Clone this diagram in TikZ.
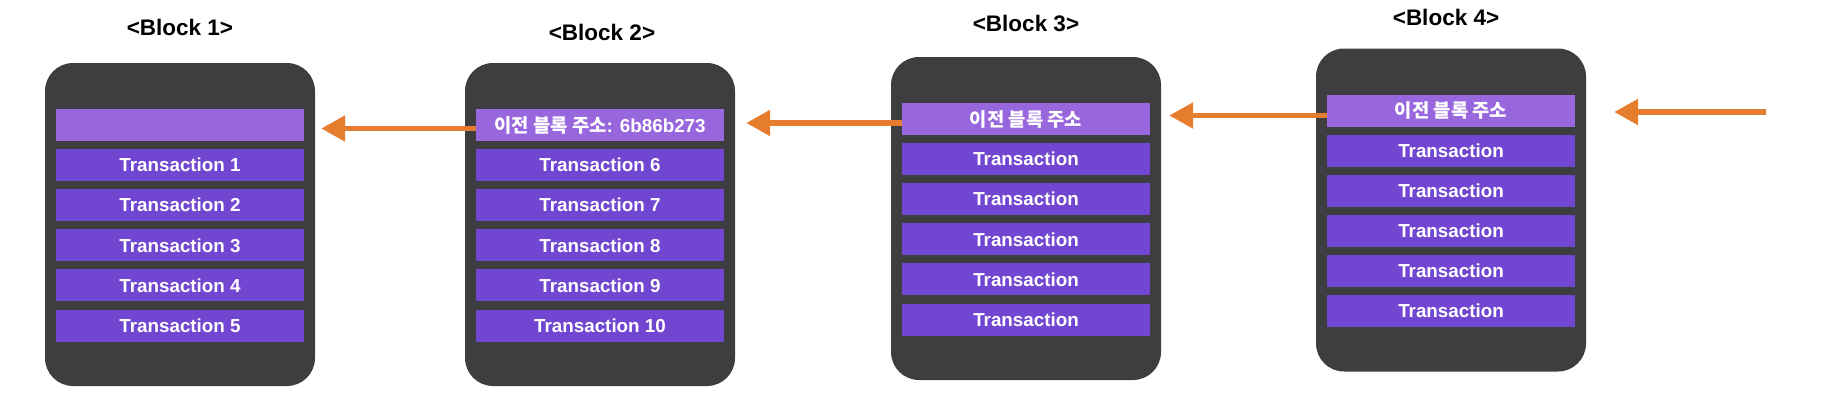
\documentclass[tikz,border=0pt]{standalone}
\usepackage{fontspec}
\setmainfont{Liberation Sans}
\newfontfamily\cjk{Noto Sans CJK KR}
\usetikzlibrary{arrows.meta,positioning}

\definecolor{blockgray}{RGB}{62,61,64}
\definecolor{prevpurple}{RGB}{152,102,221}
\definecolor{txpurple}{RGB}{113,70,208}
\definecolor{linkorange}{RGB}{230,125,46}

\begin{document}
\begin{tikzpicture}[x=1pt, y=-1pt,
        block/.style={fill=blockgray, rounded corners=28pt, minimum width=270pt, minimum height=323pt, inner sep=0pt},
        row/.style={minimum width=248pt, minimum height=32pt, inner sep=0pt, text=white, font=\fontsize{18.8}{20}\selectfont\bfseries},
        prev/.style={row, fill=prevpurple},
        tx/.style={row, fill=txpurple},
        title/.style={font=\fontsize{22.5}{24}\selectfont\bfseries},
        link/.style={draw=linkorange, line width=5.5pt, -{Triangle[length=24pt, width=25pt]}}]
    \useasboundingbox (0,0) rectangle (1838,408);

    % blocks
    \node [block] (b1) at (180,224.5) {};
    \node [block] (b2) at (600,224.5) {};
    \node [block] (b3) at (1026,218.5) {};
    \node [block] (b4) at (1451,210) {};

    \node [title] (h1) at (180,27) {<Block 1>};
    \node [title] (h2) at (602,32) {<Block 2>};
    \node [title] (h3) at (1026,23) {<Block 3>};
    \node [title] (h4) at (1446,17) {<Block 4>};

    % previous block address
    \node [prev, below=46pt of b1.north] (b1r0) {};
    \node [prev, below=46pt of b2.north] (b2r0) {{\cjk 이전 블록 주소}: 6b86b273};
    \node [prev, below=46pt of b3.north] (b3r0) {\cjk 이전 블록 주소};
    \node [prev, below=46pt of b4.north] (b4r0) {\cjk 이전 블록 주소};

    % transactions
    \foreach \k [remember=\k as \j (initially 0)] in {1,...,5}
        \node [tx, below=7.7pt of b1r\j] (b1r\k) {Transaction \k};
    \foreach \k [remember=\k as \j (initially 0), evaluate=\k as \m using int(\k+5)] in {1,...,5}
        \node [tx, below=7.7pt of b2r\j] (b2r\k) {Transaction \m};
    \foreach \k [remember=\k as \j (initially 0)] in {1,...,5}{
        \node [tx, below=7.7pt of b3r\j] (b3r\k) {Transaction};
        \node [tx, below=7.7pt of b4r\j] (b4r\k) {Transaction};
    }

    % links to previous block
    \coordinate (a2) at ([yshift=-3.5pt]b2r0.west);
    \coordinate (a3) at ([yshift=-4pt]b3r0.west);
    \coordinate (a4) at ([yshift=-5pt]b4r0.west);
    \coordinate (in) at (1766,112);
    \draw [link, shorten >=6pt] (a2) -- (a2 -| b1.east);
    \draw [link, shorten >=11pt] (a3) -- (a3 -| b2.east);
    \draw [link, shorten >=8pt] (a4) -- (a4 -| b3.east);
    \draw [link, shorten >=28pt] (in) -- (in -| b4.east);
\end{tikzpicture}
\end{document}
